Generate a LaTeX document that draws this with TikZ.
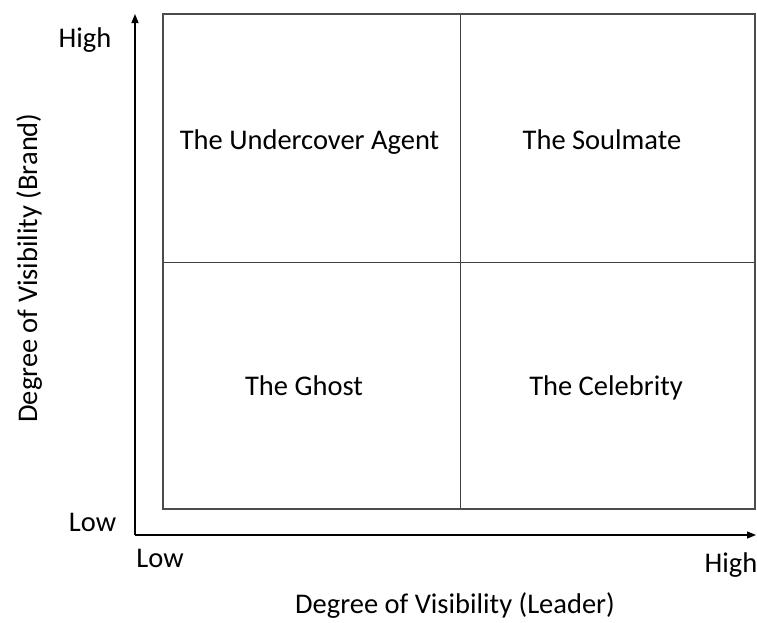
\documentclass[tikz,border=0pt]{standalone}
\usepackage{fontspec}
\setmainfont{Carlito}
\usetikzlibrary{arrows.meta}
\begin{document}
\begin{tikzpicture}[x=1pt,y=-1pt,
  axis/.style={line width=1.4pt, -{Triangle[length=9pt,width=7pt]}},
  frame/.style={draw=black!70, line width=1.5pt},
  divider/.style={draw=black!75, line width=1pt},
  quad/.style={font=\fontsize{28.5}{33}\selectfont, inner sep=0pt, anchor=base},
  lbl/.style={font=\fontsize{28.5}{33}\selectfont, inner sep=0pt, anchor=base}]
  \useasboundingbox (0,0) rectangle (757,622);
  % quadrant grid
  \coordinate (tl) at (163,14);
  \coordinate (br) at (755,509);
  \coordinate (mt) at (460,14);
  \coordinate (mb) at (460,509);
  \coordinate (ml) at (163,262);
  \coordinate (mr) at (755,262);
  \draw[divider] (mt) -- (mb);
  \draw[divider] (ml) -- (mr);
  \draw[frame] (tl) rectangle (br);
  % axes
  \coordinate (origin) at (135,535);
  \coordinate (ytip) at (135,14);
  \coordinate (xtip) at (756,535);
  \draw[axis] (origin) -- (ytip);
  \draw[axis] (origin) -- (xtip);
  % quadrant names
  \node[quad] (ua) at (309.5,149) {The Undercover Agent};
  \node[quad] (sm) at (602,149) {The Soulmate};
  \node[quad] (gh) at (304,395) {The Ghost};
  \node[quad] (ce) at (606,395) {The Celebrity};
  % axis ends
  \node[lbl] (yhigh) at (85,47) {High};
  \node[lbl] (ylow) at (92.5,531) {Low};
  \node[lbl] (xlow) at (160,567) {Low};
  \node[lbl] (xhigh) at (731,572) {High};
  % axis titles
  \node[lbl] (xtitle) at (455,613) {Degree of Visibility (Leader)};
  \node[lbl, rotate=90] (ytitle) at (37,268) {Degree of Visibility (Brand)};
\end{tikzpicture}
\end{document}
